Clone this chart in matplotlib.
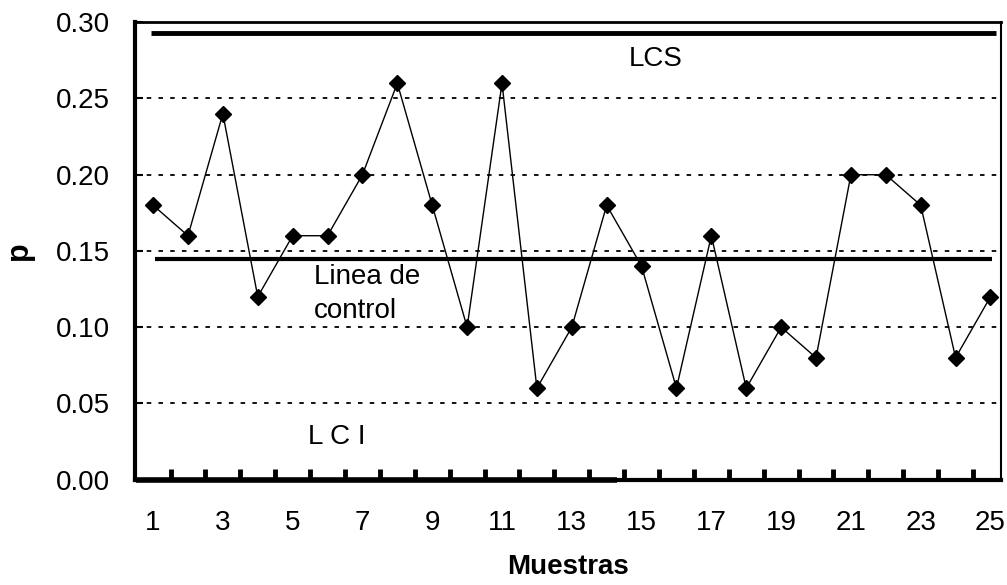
import numpy as np
import matplotlib.pyplot as plt

plt.rcParams['font.family'] = ['Liberation Sans', 'DejaVu Sans']

# datos de la carta p
muestras = np.arange(1, 26)
p = [0.18, 0.16, 0.24, 0.12, 0.16, 0.16, 0.20, 0.26, 0.18, 0.10,
     0.26, 0.06, 0.10, 0.18, 0.14, 0.06, 0.16, 0.06, 0.10, 0.08,
     0.20, 0.20, 0.18, 0.08, 0.12]
lcs = 0.293
lc = 0.145
lci = 0.0
x_labels = list(range(1, 26, 2))

fig, ax = plt.subplots(figsize=(10.07, 5.85), dpi=100)
fig.subplots_adjust(left=0.134, right=0.994, top=0.962, bottom=0.18)

# lineas de control
ax.plot([0.95, 25.15], [lcs, lcs], color='black', lw=3.5, solid_capstyle='butt')
ax.plot([1.05, 25.05], [lc, lc], color='black', lw=3, solid_capstyle='butt')
ax.plot([0.5, 14.3], [lci, lci], color='black', lw=4, solid_capstyle='butt', clip_on=False)

# serie
ax.plot(muestras, p, color='black', lw=1, marker='D', markersize=8.5,
        markerfacecolor='black', markeredgecolor='black')

ax.text(15.4, 0.276, 'LCS', fontsize=20, ha='center', va='center')
ax.text(5.6, 0.122, 'Linea de\ncontrol', fontsize=20, ha='left', va='center',
        linespacing=1.4)
ax.text(5.45, 0.028, 'L C I', fontsize=20, ha='left', va='center')

ax.set_xlim(0.48, 25.3)
ax.set_ylim(0, 0.30)
ax.set_yticks(np.arange(0, 0.31, 0.05))
ax.set_yticklabels([f'{v:.2f}' for v in np.arange(0, 0.31, 0.05)])
ax.yaxis.grid(True, linestyle=(0, (2.5, 4)), color='black', lw=1.3)
ax.set_axisbelow(True)

ax.set_xticks(x_labels)
ax.set_xticklabels([str(v) for v in x_labels])
ax.set_xticks(np.arange(1.5, 25, 1), minor=True)
ax.tick_params(axis='x', which='major', length=0, pad=22, labelsize=20)
ax.tick_params(axis='x', which='minor', direction='in', length=8, width=3.5)
ax.tick_params(axis='y', direction='in', length=6, width=1.5, labelsize=20, pad=18)

for s in ['left', 'bottom']:
    ax.spines[s].set_linewidth(3)
ax.spines['top'].set_linewidth(2)
ax.spines['right'].set_linewidth(1.5)

ax.set_xlabel('Muestras', fontsize=20, fontweight='bold', labelpad=13)
ax.set_ylabel('p', fontsize=22, fontweight='bold', labelpad=16)

plt.savefig('out.png', dpi=100)
